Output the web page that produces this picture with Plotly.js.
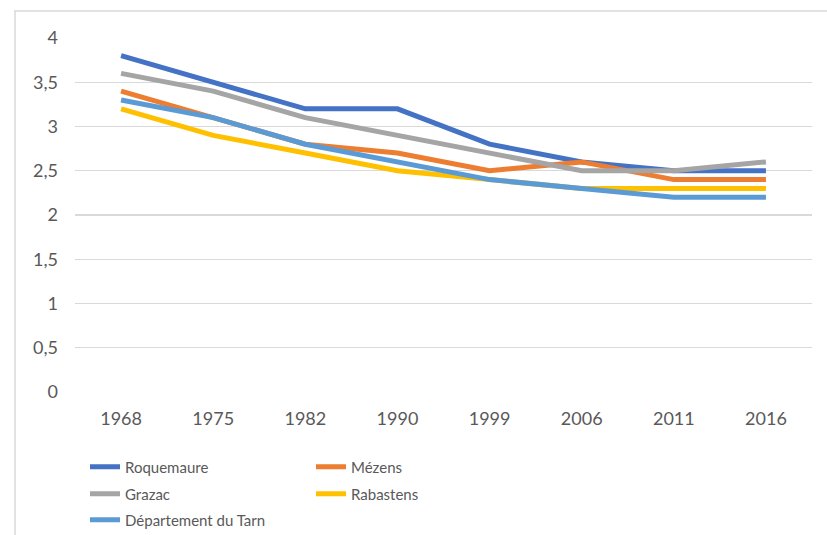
<!DOCTYPE html>
<html>
<head>
<meta charset="utf-8">
<script src="https://cdn.plot.ly/plotly-3.0.1.min.js"></script>
<style>html,body{margin:0;padding:0;background:#fff;}#chart{width:827px;height:535px;}</style>
</head>
<body>
<div id="chart"></div>
<script>
const years = ["1968", "1975", "1982", "1990", "1999", "2006", "2011", "2016"];
const roquemaure = [3.8, 3.5, 3.2, 3.2, 2.8, 2.6, 2.5, 2.5];
const mezens = [3.4, 3.1, 2.8, 2.7, 2.5, 2.6, 2.4, 2.4];
const grazac = [3.6, 3.4, 3.1, 2.9, 2.7, 2.5, 2.5, 2.6];
const rabastens = [3.2, 2.9, 2.7, 2.5, 2.4, 2.3, 2.3, 2.3];
const departement = [3.3, 3.1, 2.8, 2.6, 2.4, 2.3, 2.2, 2.2];
const names = ["Roquemaure", "Mézens", "Grazac", "Rabastens", "Département du Tarn"];
const yTicks = [0, 0.5, 1, 1.5, 2, 2.5, 3, 3.5, 4];

const FONT = "Lato, Liberation Sans, sans-serif";
const series = [roquemaure, mezens, grazac, rabastens, departement];
const colors = ["#4472C4", "#ED7D31", "#A5A5A5", "#FFC000", "#5B9BD5"];
const legendIds = ["legend", "legend", "legend2", "legend2", "legend3"];

const traces = series.map((v, i) => ({
  type: "scatter", mode: "lines", x: years, y: v, name: names[i],
  line: {color: colors[i], width: 5, shape: "linear"},
  legend: legendIds[i], hoverinfo: "skip"
}));

function legendAt(pxY) {
  return {
    orientation: "h", xref: "container", yref: "container",
    x: 85 / 827, xanchor: "left", y: 1 - pxY / 535, yanchor: "middle",
    entrywidth: 181, entrywidthmode: "pixels", traceorder: "normal",
    font: {family: FONT, size: 15, color: "#595959"}, bgcolor: "rgba(0,0,0,0)"
  };
}

const layout = {
  width: 827, height: 535,
  margin: {l: 75, r: 15, t: 38, b: 143, autoexpand: false},
  paper_bgcolor: "#fff", plot_bgcolor: "#fff",
  separators: ", ",
  showlegend: true,
  xaxis: {
    type: "category", range: [-0.5, 7.5], showgrid: false, showline: false, zeroline: false,
    ticks: "", ticklabelstandoff: 14, fixedrange: true,
    tickfont: {family: FONT, size: 18, color: "#595959"}
  },
  yaxis: {
    range: [0, 4], tickvals: yTicks, showgrid: true, gridcolor: "#d9d9d9", gridwidth: 1.3,
    zeroline: false, showline: false, ticks: "", ticklabelstandoff: 16, fixedrange: true,
    tickfont: {family: FONT, size: 18, color: "#595959"}
  },
  legend: legendAt(467),
  legend2: legendAt(494),
  legend3: legendAt(520),
  shapes: [{
    type: "rect", xref: "paper", yref: "paper",
    x0: (15 - 75) / 737, x1: (835 - 75) / 737,
    y0: (392 - 545) / 354, y1: (392 - 11) / 354,
    line: {color: "#d9d9d9", width: 1.5}, fillcolor: "rgba(0,0,0,0)", layer: "below"
  }]
};

Plotly.newPlot("chart", traces, layout, {displayModeBar: false, staticPlot: true});
</script>
</body>
</html>
